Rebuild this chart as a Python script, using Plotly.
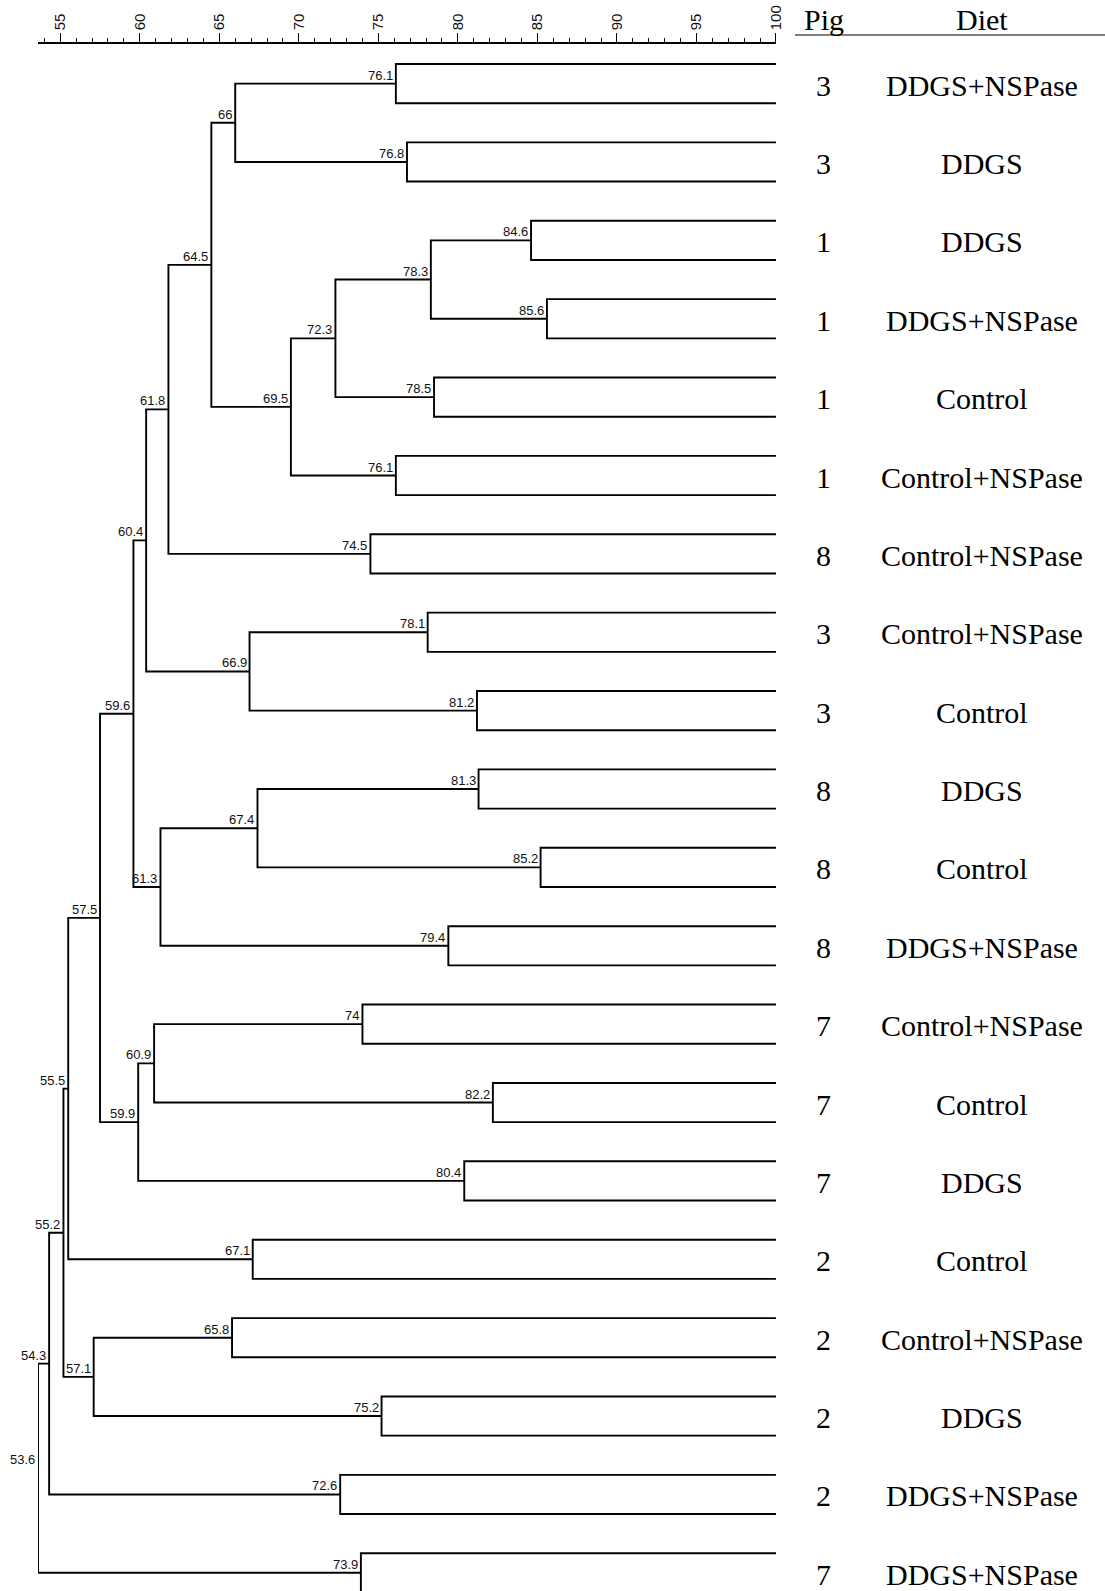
import plotly.graph_objects as go

# ---- data ----
pigs = [3, 3, 1, 1, 1, 1, 8, 3, 3, 8, 8, 8, 7, 7, 7, 2, 2, 2, 2, 7]
diets = ["DDGS+NSPase", "DDGS", "DDGS", "DDGS+NSPase", "Control", "Control+NSPase",
         "Control+NSPase", "Control+NSPase", "Control", "DDGS", "Control", "DDGS+NSPase",
         "Control+NSPase", "Control", "DDGS", "Control", "Control+NSPase", "DDGS",
         "DDGS+NSPase", "DDGS+NSPase"]
# similarity of the two duplicate lanes of each sample
pair_similarity = [76.1, 76.8, 84.6, 85.6, 78.5, 76.1, 74.5, 78.1, 81.2, 81.3,
                   85.2, 79.4, 74, 82.2, 80.4, 67.1, 65.8, 75.2, 72.6, 73.9]
# internal merges: node id, left child, right child, similarity
merge_id = ["A", "B", "C", "D", "E", "F", "G", "H", "I", "J",
            "K", "L", "M", "N", "O", "Q", "R", "S", "T"]
merge_left = ["P0", "P2", "B", "C", "A", "E", "P7", "F", "P9", "I",
              "H", "P12", "L", "K", "N", "P16", "O", "R", "S"]
merge_right = ["P1", "P3", "P4", "P5", "D", "P6", "P8", "G", "P10", "P11",
               "J", "P13", "P14", "M", "P15", "P17", "Q", "P18", "P19"]
merge_similarity = [66, 78.3, 72.3, 69.5, 64.5, 61.8, 66.9, 60.4, 67.4, 61.3,
                    59.6, 60.9, 59.9, 57.5, 55.5, 57.1, 55.2, 54.3, 53.6]

X_MIN, X_MAX = 53.6, 100

# ---- geometry (pixel layout) ----
W, H = 1105, 1591
L_PX, R_PX = 38, 776
T_PX = 44
LEAF0_PX, LEAF_STEP = 64.0, 39.19
top_idx = (T_PX - LEAF0_PX) / LEAF_STEP
bot_idx = top_idx + (H - T_PX) / LEAF_STEP


def px_to_paper_x(px):
    return (px - L_PX) / (R_PX - L_PX)


xs, ys = [], []
pos = {}
labels = []
for k, s in enumerate(pair_similarity):
    y0, y1 = 2 * k, 2 * k + 1
    xs += [X_MAX, s, s, X_MAX, None]
    ys += [y0, y0, y1, y1, None]
    pos[f"P{k}"] = (s, (y0 + y1) / 2)
    labels.append((s, (y0 + y1) / 2))

for nid, a, b, s in zip(merge_id, merge_left, merge_right, merge_similarity):
    xa, ya = pos[a]
    xb, yb = pos[b]
    xs += [xa, s, s, xb, None]
    ys += [ya, ya, yb, yb, None]
    pos[nid] = (s, (ya + yb) / 2)
    labels.append((s, (ya + yb) / 2))

fig = go.Figure()
fig.add_trace(go.Scatter(x=xs, y=ys, mode="lines",
                         line=dict(color="black", width=1.9),
                         hoverinfo="skip", showlegend=False))

annotations = []
for s, y in labels:
    annotations.append(dict(x=s, y=y, xref="x", yref="y", text=f"{s:g}",
                            showarrow=False, xanchor="right", yanchor="bottom",
                            xshift=-2, yshift=0, borderpad=0,
                            font=dict(family="Liberation Sans, Arial", size=13, color="#111")))

serif = dict(family="Liberation Serif, Times New Roman", size=30, color="black")
pig_x = px_to_paper_x(823.5)
diet_x = px_to_paper_x(981.5)
for k in range(len(pigs)):
    yc = 2 * k + 0.5
    annotations.append(dict(x=pig_x, y=yc, xref="paper", yref="y", text=str(pigs[k]),
                            showarrow=False, xanchor="center", yanchor="middle",
                            yshift=-1.5, font=serif))
    annotations.append(dict(x=diet_x, y=yc, xref="paper", yref="y", text=diets[k],
                            showarrow=False, xanchor="center", yanchor="middle",
                            yshift=-1.5, font=serif))

plot_h = H - T_PX
hdr_y = 1 + (T_PX - 19) / plot_h
annotations.append(dict(x=pig_x, y=hdr_y, xref="paper", yref="paper", text="Pig",
                        showarrow=False, xanchor="center", yanchor="middle", font=serif))
annotations.append(dict(x=diet_x, y=hdr_y, xref="paper", yref="paper", text="Diet",
                        showarrow=False, xanchor="center", yanchor="middle", font=serif))

line_y = 1 + (T_PX - 35) / plot_h
shapes = [dict(type="line", xref="paper", yref="paper",
               x0=px_to_paper_x(795), x1=px_to_paper_x(1105), y0=line_y, y1=line_y,
               line=dict(color="black", width=1.2))]

fig.update_layout(
    width=W, height=H,
    margin=dict(l=L_PX, r=W - R_PX, t=T_PX, b=0, pad=0),
    paper_bgcolor="white", plot_bgcolor="white",
    annotations=annotations, shapes=shapes,
    xaxis=dict(side="top", range=[X_MIN, X_MAX + 0.001], tickmode="linear", tick0=55, dtick=5,
               ticks="outside", ticklen=9, tickwidth=1.2, tickcolor="black",
               showline=True, linecolor="black", linewidth=1.5,
               tickangle=-90, showgrid=False, zeroline=False,
               tickfont=dict(family="Liberation Sans, Arial", size=15, color="#111"),
               minor=dict(dtick=1, tick0=0, ticks="outside", ticklen=4.5,
                          tickwidth=1.2, tickcolor="black", showgrid=False)),
    yaxis=dict(range=[bot_idx, top_idx], visible=False, showgrid=False, zeroline=False),
)

fig.write_html("out.html", config={"displayModeBar": False},
               post_script="document.body.style.margin='0';document.body.style.overflow='hidden';")
